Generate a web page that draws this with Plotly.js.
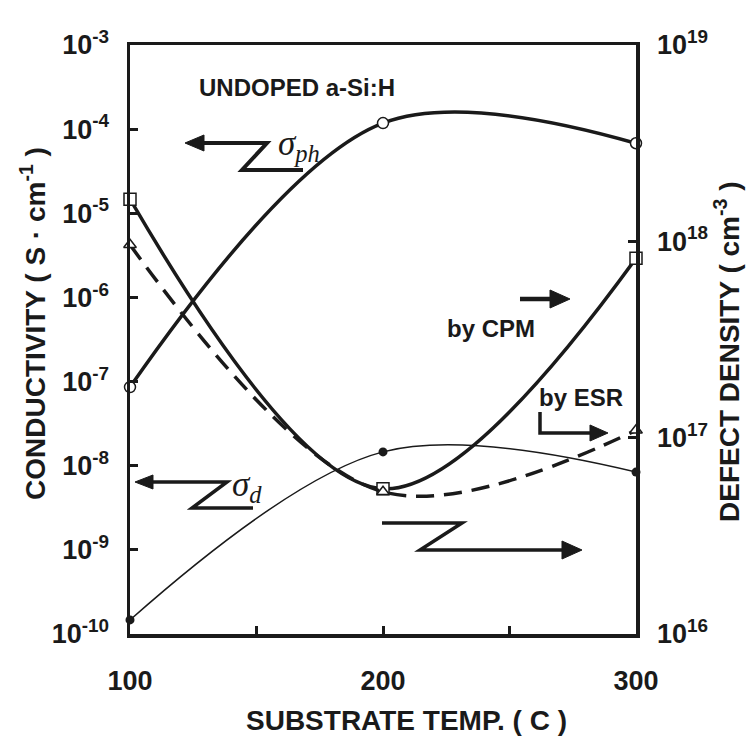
<!DOCTYPE html>
<html><head><meta charset="utf-8">
<script src="https://cdn.plot.ly/plotly-3.0.1.min.js"></script>
<style>body{margin:0;background:#fff}#chart{width:748px;height:751px}</style>
</head><body><div id="chart"></div>
<script>
// ---- data ----
const temps = [100, 200, 300];
const sigmaPh = [8.6e-8, 1.18e-4, 6.8e-5];      // photoconductivity, S/cm (left axis)
const sigmaD = [1.47e-10, 1.46e-8, 8.4e-9];     // dark conductivity, S/cm (left axis)
const defectCPM = [1.64e18, 5.5e16, 8.2e17];    // defect density by CPM, cm^-3 (right axis)
const defectESR = [9.6e17, 5.3e16, 1.09e17];    // defect density by ESR, cm^-3 (right axis)
const xTickVals = [100, 150, 200, 250, 300];
const xTickText = ['100', '', '200', '', '300'];
const condTickVals = [1e-10, 1e-9, 1e-8, 1e-7, 1e-6, 1e-5, 1e-4, 1e-3];
const condTickText = ['10<sup>-10</sup>', '10<sup>-9</sup>', '10<sup>-8</sup>', '10<sup>-7</sup>', '10<sup>-6</sup>', '10<sup>-5</sup>', '10<sup>-4</sup>', '10<sup>-3</sup>'];
const defTickVals = [1e16, 1e17, 1e18, 1e19];
const defTickText = ['10<sup>16</sup>', '10<sup>17</sup>', '10<sup>18</sup>', '10<sup>19</sup>'];

// ---- geometry helpers for decorations (pixel -> paper) ----
const L = 130, R = 636, T = 45, B = 634;
const px = x => (x - L) / (R - L);
const py = y => (B - y) / (B - T);
const ink = '#1a1a1a';
function pathOf(pts, close) {
  return 'M' + pts.map(p => px(p[0]).toFixed(5) + ',' + py(p[1]).toFixed(5)).join(' L') + (close ? ' Z' : '');
}
function line(pts, w) {
  return {type: 'path', xref: 'paper', yref: 'paper', path: pathOf(pts, false), line: {color: ink, width: w}};
}
function head(pts) {
  return {type: 'path', xref: 'paper', yref: 'paper', path: pathOf(pts, true), fillcolor: ink, line: {color: ink, width: 1}};
}

const sans = 'Liberation Sans, Arial, sans-serif';
const boldFont = {family: sans, size: 24, color: ink, weight: 'bold'};
const titleFont = {family: sans, size: 28, color: ink, weight: 'bold'};
const greekFont = {family: 'Liberation Serif, Times New Roman, serif', size: 35, color: ink, style: 'italic'};

const traces = [
  {x: temps, y: sigmaPh, yaxis: 'y', mode: 'lines+markers', cliponaxis: false,
   line: {shape: 'spline', width: 3.5, color: ink},
   marker: {symbol: 'circle', size: 11, color: 'white', line: {width: 1.5, color: ink}}},
  {x: temps, y: sigmaD, yaxis: 'y', mode: 'lines+markers', cliponaxis: false,
   line: {shape: 'spline', width: 1.5, color: ink},
   marker: {symbol: 'circle', size: 9, color: ink}},
  {x: temps, y: defectCPM, yaxis: 'y2', mode: 'lines+markers', cliponaxis: false,
   line: {shape: 'spline', width: 3.5, color: ink},
   marker: {symbol: 'square', size: 12, color: 'white', line: {width: 1.5, color: ink}}},
  {x: temps, y: defectESR, yaxis: 'y2', mode: 'lines+markers', cliponaxis: false,
   line: {shape: 'spline', width: 3.5, color: ink, dash: '18px,10px'},
   marker: {symbol: 'triangle-up', size: 11, color: 'white', line: {width: 1.5, color: ink}}}
];

const axisCommon = {
  ticks: 'inside', ticklen: 8, tickwidth: 3, tickcolor: ink,
  showline: true, linewidth: 3.5, linecolor: ink,
  showgrid: false, zeroline: false,
  tickfont: {family: sans, size: 27, color: ink, weight: 'bold'}
};

const layout = {
  width: 748, height: 751,
  margin: {l: L, r: 748 - R, t: T, b: 751 - B},
  paper_bgcolor: 'white', plot_bgcolor: 'white', showlegend: false,
  font: {family: sans, color: ink},
  xaxis: Object.assign({}, axisCommon, {range: [100, 300], tickvals: xTickVals, ticktext: xTickText, mirror: true, ticklabelstandoff: 20}),
  yaxis: Object.assign({}, axisCommon, {type: 'log', range: [-10, -3], tickvals: condTickVals, ticktext: condTickText, ticklabelstandoff: 12}),
  yaxis2: Object.assign({}, axisCommon, {type: 'log', range: [16, 19], tickvals: defTickVals, ticktext: defTickText, overlaying: 'y', side: 'right', ticklabelstandoff: 12}),
  annotations: [
    {xref: 'paper', yref: 'paper', x: px(197), y: py(87), xanchor: 'left', yanchor: 'middle', showarrow: false, text: 'UNDOPED a-Si:H', font: boldFont},
    {xref: 'paper', yref: 'paper', x: px(445), y: py(328), xanchor: 'left', yanchor: 'middle', showarrow: false, text: 'by CPM', font: boldFont},
    {xref: 'paper', yref: 'paper', x: px(537), y: py(397), xanchor: 'left', yanchor: 'middle', showarrow: false, text: 'by ESR', font: boldFont},
    {xref: 'paper', yref: 'paper', x: px(276), y: py(145), xanchor: 'left', yanchor: 'middle', showarrow: false, text: 'σ<sub>ph</sub>', font: greekFont},
    {xref: 'paper', yref: 'paper', x: px(230), y: py(486), xanchor: 'left', yanchor: 'middle', showarrow: false, text: 'σ<sub>d</sub>', font: greekFont},
    {xref: 'paper', yref: 'paper', x: px(33), y: py(324), xanchor: 'center', yanchor: 'middle', showarrow: false, textangle: -90,
     text: 'CONDUCTIVITY ( S · cm<sup>-1</sup> )', font: titleFont},
    {xref: 'paper', yref: 'paper', x: px(727), y: py(352), xanchor: 'center', yanchor: 'middle', showarrow: false, textangle: -90,
     text: 'DEFECT DENSITY ( cm<sup>-3</sup> )', font: titleFont},
    {xref: 'paper', yref: 'paper', x: px(406), y: py(720), xanchor: 'center', yanchor: 'middle', showarrow: false,
     text: 'SUBSTRATE TEMP. ( C )', font: titleFont}
  ],
  shapes: [
    line([[198, 143], [267, 143], [242, 170], [303, 170]], 4), head([[185, 143], [204, 135], [204, 151]]),
    line([[148, 482], [227, 482], [192, 508], [253, 508]], 3.5), head([[135, 482], [153, 475], [153, 489]]),
    line([[382, 523], [462, 523], [420, 550], [566, 550]], 3.5), head([[582, 550], [562, 541], [562, 559]]),
    line([[520, 299], [555, 299]], 4.5), head([[570, 299], [550, 290], [550, 308]]),
    line([[540, 412], [540, 433], [595, 433]], 3.5), head([[608, 433], [590, 425], [590, 441]])
  ]
};

Plotly.newPlot('chart', traces, layout, {staticPlot: true, displayModeBar: false});
</script>
</body></html>
